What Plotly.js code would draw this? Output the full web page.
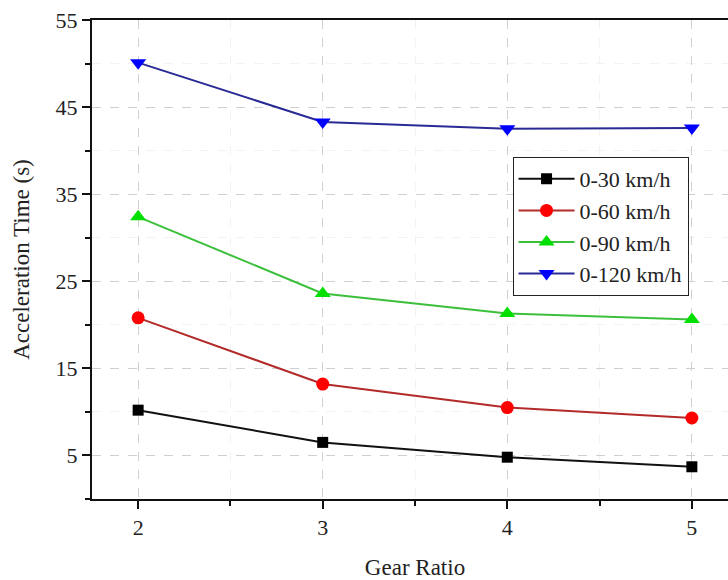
<!DOCTYPE html>
<html>
<head>
<meta charset="utf-8">
<script src="https://cdn.plot.ly/plotly-3.0.1.min.js"></script>
<style>
html,body{margin:0;padding:0;overflow:hidden;background:#fff;}
#chart{width:740px;height:580px;}
</style>
</head>
<body>
<div id="chart"></div>
<script>
const gearRatio = [2, 3, 4, 5];
const t30 = [10.2, 6.5, 4.8, 3.7];
const t60 = [20.8, 13.2, 10.5, 9.3];
const t90 = [32.4, 23.6, 21.3, 20.6];
const t120 = [50.1, 43.3, 42.5, 42.6];
const seriesNames = ['0-30 km/h', '0-60 km/h', '0-90 km/h', '0-120 km/h'];

const font = 'Liberation Serif, Times New Roman, serif';

function tr(y, name, lineColor, color, symbol, size) {
  return {
    x: gearRatio, y: y, name: name, type: 'scatter', mode: 'lines+markers',
    line: {color: lineColor, width: 2},
    marker: {color: color, symbol: symbol, size: size}
  };
}

const data = [
  tr(t30, seriesNames[0], '#111111', '#000000', 'square', 11),
  tr(t60, seriesNames[1], '#b32a2a', '#ff0000', 'circle', 13),
  tr(t90, seriesNames[2], '#3cc03c', '#00e000', 'triangle-up', 14),
  tr(t120, seriesNames[3], '#2a2a95', '#0000ff', 'triangle-down', 14)
];

const layout = {
  width: 740, height: 580,
  margin: {l: 92, r: 2, t: 20, b: 81},
  paper_bgcolor: '#fff', plot_bgcolor: '#fff',
  font: {family: font, size: 22, color: '#222'},
  showlegend: true,
  legend: {
    x: 0.651, y: 0.714, xanchor: 'left', yanchor: 'top',
    bordercolor: '#222', borderwidth: 1, bgcolor: '#fff',
    font: {family: font, size: 22, color: '#222'},
    tracegroupgap: 0, itemwidth: 56
  },
  xaxis: {
    range: [1.75, 5.25], tickmode: 'linear', tick0: 2, dtick: 1,
    ticks: 'outside', ticklen: 8, tickwidth: 2, tickcolor: '#111',
    showline: true, linecolor: '#111', linewidth: 2, mirror: true,
    showgrid: true, gridcolor: '#d0d0d0', griddash: 'dash', gridwidth: 1,
    zeroline: false,
    minor: {dtick: 0.5, ticks: 'outside', ticklen: 5, tickwidth: 2, tickcolor: '#111', showgrid: true, gridcolor: '#f2f2f2', gridwidth: 1},
    tickfont: {family: font, size: 22, color: '#222'},
    title: {text: 'Gear Ratio', font: {family: font, size: 23, color: '#222'}, standoff: 19}
  },
  yaxis: {
    range: [0, 55], tickmode: 'linear', tick0: 5, dtick: 10,
    ticks: 'outside', ticklen: 8, tickwidth: 2, tickcolor: '#111',
    showline: true, linecolor: '#111', linewidth: 2, mirror: true,
    showgrid: true, gridcolor: '#d0d0d0', griddash: 'dash', gridwidth: 1,
    zeroline: false,
    minor: {dtick: 5, tick0: 0, ticks: 'outside', ticklen: 5, tickwidth: 2, tickcolor: '#111', showgrid: true, gridcolor: '#f2f2f2', gridwidth: 1},
    tickfont: {family: font, size: 22, color: '#222'},
    title: {text: 'Acceleration Time (s)', font: {family: font, size: 23, color: '#222'}, standoff: 20}
  }
};

Plotly.newPlot('chart', data, layout, {displayModeBar: false, staticPlot: true});
</script>
</body>
</html>
